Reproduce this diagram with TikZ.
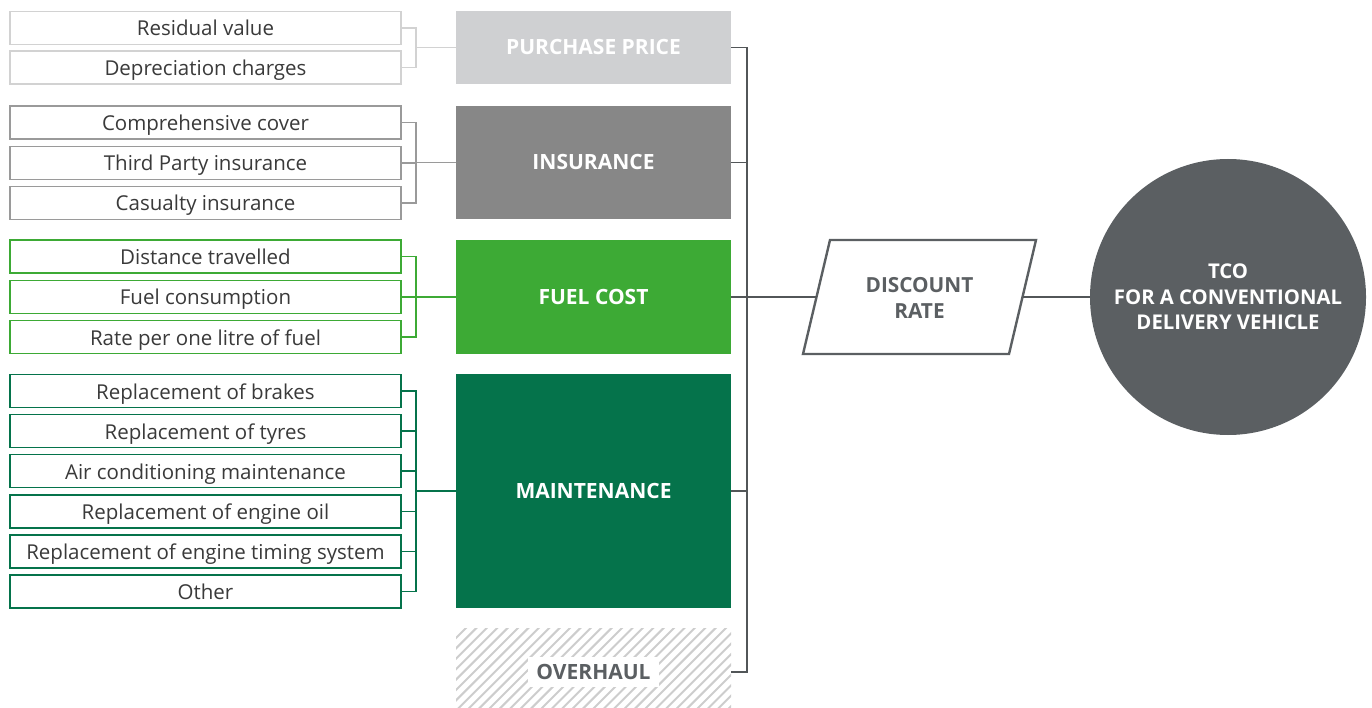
\documentclass[tikz,border=0pt]{standalone}
\usepackage{fontspec}
\setmainfont{Open Sans}
\usetikzlibrary{calc}
\definecolor{txt}{HTML}{3A3A3A}
\definecolor{slate}{HTML}{5B5F62}
\definecolor{ppgray}{HTML}{CFD0D2}
\definecolor{ppline}{HTML}{D2D2D2}
\definecolor{insgray}{HTML}{878787}
\definecolor{insline}{HTML}{9A9A9A}
\definecolor{fuelgreen}{HTML}{3DAA35}
\definecolor{mntgreen}{HTML}{05734B}
\definecolor{hatchgray}{HTML}{CDCDCD}
\begin{document}
\begin{tikzpicture}[x=1pt,y=-1pt,
  sub/.style={draw, fill=white, minimum width=391pt, minimum height=33pt, inner sep=0pt,
    text height=16pt, text depth=0pt,
    line width=1.2pt, text=txt, font=\fontsize{20.5}{24}\selectfont},
  cat/.style={minimum width=275pt, inner sep=0pt, text=white,
    text height=15pt, text depth=0pt,
    font=\fontsize{21}{26}\selectfont\bfseries},
  brace/.style={line width=1.3pt},
  bus/.style={line width=1.5pt, draw=slate!90!black},
  hatch/.style={line width=2pt, draw=hatchgray}]
\useasboundingbox (0,0) rectangle (1372,708);

% bracket and bus x positions
\coordinate (br) at (416,0);
\coordinate (bus) at (747,0);

% ---- purchase price group
\node[sub, draw=ppline] (rv) at (205.5,28) {Residual value};
\node[sub, draw=ppline] (dc) at (205.5,67.5) {Depreciation charges};
\node[cat, fill=ppgray, minimum height=73pt] (pp) at (593.5,47.5) {PURCHASE PRICE};
\draw[brace, ppline] (rv.east) -- (rv.east -| br) -- (dc.east -| br) -- (dc.east);
\draw[brace, ppline] (pp.west -| br) -- (pp.west);

% ---- insurance group
\node[sub, draw=insline] (cc) at (205.5,122.5) {Comprehensive cover};
\node[sub, draw=insline] (tp) at (205.5,163) {Third Party insurance};
\node[sub, draw=insline] (ca) at (205.5,203) {Casualty insurance};
\node[cat, fill=insgray, minimum height=113pt] (ins) at (593.5,162.5) {INSURANCE};
\draw[brace, insline] (cc.east) -- (cc.east -| br) -- (ca.east -| br) -- (ca.east);
\draw[brace, insline] (tp.east) -- (tp.east -| br);
\draw[brace, insline] (ins.west -| br) -- (ins.west);

% ---- fuel cost group
\node[sub, draw=fuelgreen] (dt) at (205.5,256.5) {Distance travelled};
\node[sub, draw=fuelgreen] (fc) at (205.5,297) {Fuel consumption};
\node[sub, draw=fuelgreen] (rl) at (205.5,337) {Rate per one litre of fuel};
\node[cat, fill=fuelgreen, minimum height=113pt] (fuel) at (593.5,297) {FUEL COST};
\draw[brace, fuelgreen] (dt.east) -- (dt.east -| br) -- (rl.east -| br) -- (rl.east);
\draw[brace, fuelgreen] (fc.east) -- (fc.east -| br);
\draw[brace, fuelgreen] (fuel.west -| br) -- (fuel.west);

% ---- maintenance group
\node[sub, draw=mntgreen] (rb) at (205.5,391) {Replacement of brakes};
\node[sub, draw=mntgreen] (rt) at (205.5,431) {Replacement of tyres};
\node[sub, draw=mntgreen] (ac) at (205.5,471) {Air conditioning maintenance};
\node[sub, draw=mntgreen] (eo) at (205.5,511.5) {Replacement of engine oil};
\node[sub, draw=mntgreen] (et) at (205.5,551.5) {Replacement of engine timing system};
\node[sub, draw=mntgreen] (ot) at (205.5,591.5) {Other};
\node[cat, fill=mntgreen, minimum height=234pt] (mnt) at (593.5,491) {MAINTENANCE};
\draw[brace, mntgreen] (rb.east) -- (rb.east -| br) -- (ot.east -| br) -- (ot.east);
\foreach \n in {rt,ac,eo,et} \draw[brace, mntgreen] (\n.east) -- (\n.east -| br);
\draw[brace, mntgreen] (mnt.west -| br) -- (mnt.west);

% ---- overhaul (hatched)
\begin{scope}
  \clip (456,628) rectangle (731,708);
  \foreach \i in {0,...,36} \draw[hatch] (376+\i*10.4,718) -- ++(100,-100);
\end{scope}
\node[fill=white, minimum width=131pt, minimum height=30pt, inner sep=0pt, text=slate,
  text height=15pt, text depth=0pt,
  font=\fontsize{21}{26}\selectfont\bfseries] (ov) at (593.5,672) {OVERHAUL};
\coordinate (ovR) at (731,672);

% ---- bus collecting the cost items
\draw[bus] (pp.east) -- (pp.east -| bus) -- (ovR -| bus) -- (ovR);
\foreach \n in {ins,fuel,mnt} \draw[bus] (\n.east) -- (\n.east -| bus);

% ---- discount rate
\coordinate (d1) at (803,354);
\coordinate (d2) at (830,240);
\coordinate (d3) at (1036,240);
\coordinate (d4) at (1009,354);
\coordinate (drL) at (816.5,297);
\coordinate (drR) at (1022.5,297);
\draw[line width=2.4pt, draw=slate, line join=miter] (d1) -- (d2) -- (d3) -- (d4) -- cycle;
\node[align=center, text=slate, font=\fontsize{20.8}{26}\selectfont\bfseries] (dr) at (919.5,298) {DISCOUNT\\RATE};
\draw[bus] (fuel.east -| bus) -- (drL);

% ---- total cost of ownership
\node[circle, fill=slate, minimum size=276pt, inner sep=0pt, align=center, text=white,
  font=\fontsize{20.3}{25.5}\selectfont\bfseries] (tco) at (1228,297)
  {TCO\\FOR A CONVENTIONAL\\DELIVERY VEHICLE};
\draw[bus] (drR) -- (tco.west);
\end{tikzpicture}
\end{document}
